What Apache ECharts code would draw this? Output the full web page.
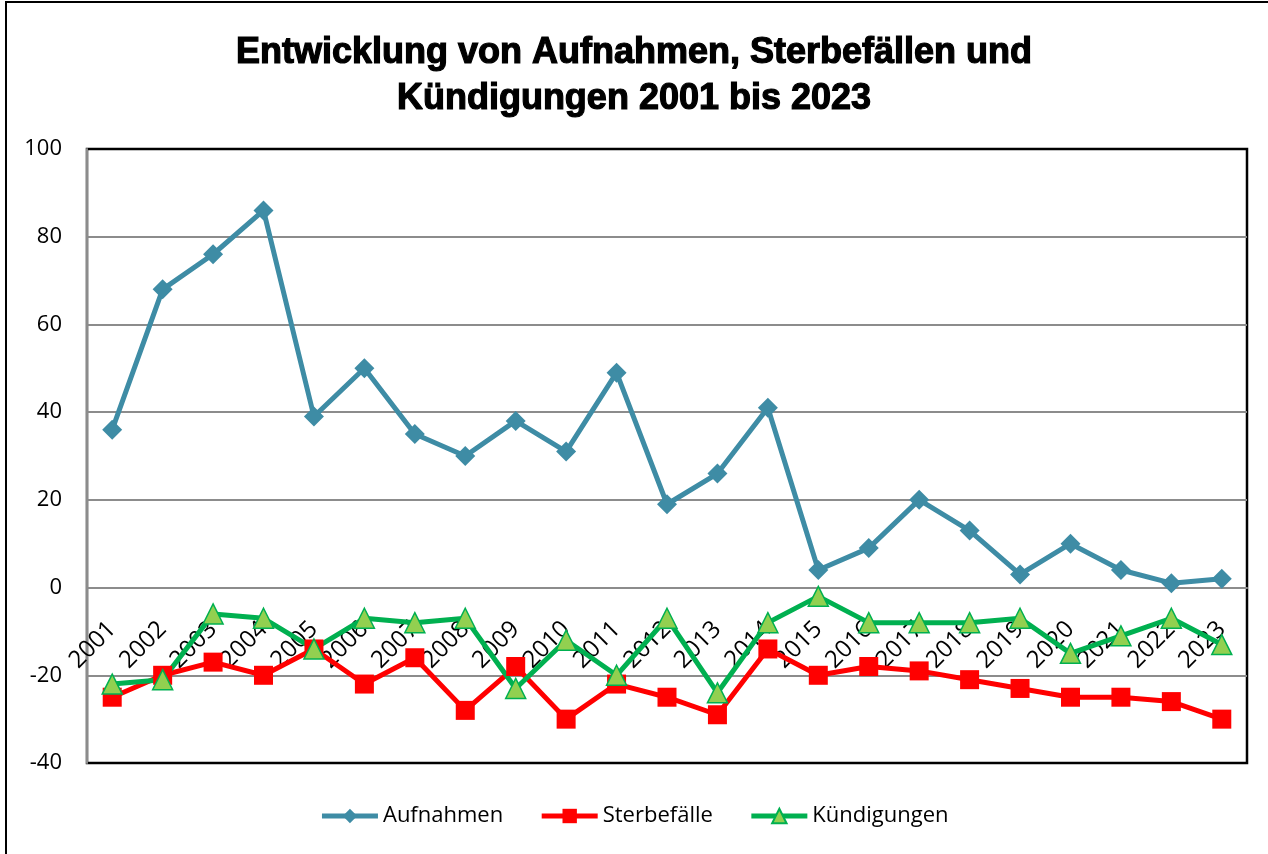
<!DOCTYPE html>
<html>
<head>
<meta charset="utf-8">
<script src="https://cdn.jsdelivr.net/npm/echarts@6/dist/echarts.min.js"></script>
<style>
  html, body { margin: 0; padding: 0; background: #fff; overflow: hidden; }
  #frame { position: absolute; left: 5px; top: 1px; width: 1300px; height: 900px; border: 2px solid #000; }
  #chart { position: absolute; left: 0; top: 0; width: 1268px; height: 854px; }
</style>
</head>
<body>
<div id="frame"></div>
<div id="chart"></div>
<script>
const years = ['2001', '2002', '2003', '2004', '2005', '2006', '2007', '2008', '2009', '2010', '2011', '2012',
  '2013', '2014', '2015', '2016', '2017', '2018', '2019', '2020', '2021', '2022', '2023'];
const aufnahmen = [36, 68, 76, 86, 39, 50, 35, 30, 38, 31, 49, 19, 26, 41, 4, 9, 20, 13, 3, 10, 4, 1, 2];
const sterbefaelle = [-25, -20, -17, -20, -14, -22, -16, -28, -18, -30, -22, -25, -29, -14, -20, -18, -19, -21, -23, -25, -25, -26, -30];
const kuendigungen = [-22, -21, -6, -7, -14, -7, -8, -7, -23, -12, -20, -7, -24, -8, -2, -8, -8, -8, -7, -15, -11, -7, -13];
const yMin = -40, yMax = 100;

const chart = echarts.init(document.getElementById('chart'));

// plot box in px
const gTop = 149, gBottom = 91, gLeft = 87, gRight = 21;
const plotH = 854 - gTop - gBottom;
// move the category axis up to the zero line
const zeroOffset = -(plotH * (0 - yMin) / (yMax - yMin));

var option = {
  animation: false,
  title: {
    text: 'Entwicklung von Aufnahmen, Sterbefällen und\nKündigungen 2001 bis 2023',
    left: 'center',
    top: 25,
    textStyle: {
      fontFamily: 'Liberation Sans',
      fontWeight: 'bold',
      fontSize: 36,
      lineHeight: 46,
      color: '#000',
      textBorderColor: '#000',
      textBorderWidth: 1.2
    }
  },
  grid: {
    left: gLeft,
    right: gRight,
    top: gTop,
    bottom: gBottom,
    show: true,
    borderColor: '#000',
    borderWidth: 2.5
  },
  legend: {
    bottom: 22,
    left: 'center',
    itemWidth: 56,
    itemHeight: 18,
    itemGap: 36,
    lineStyle: { width: 5 },
    textStyle: { fontFamily: 'Open Sans', fontSize: 22, color: '#000' },
    data: ['Aufnahmen', 'Sterbefälle', 'Kündigungen']
  },
  xAxis: [{
    // line at zero
    type: 'category',
    data: years,
    boundaryGap: true,
    offset: zeroOffset,
    axisLine: { onZero: false, lineStyle: { color: '#8c8c8c', width: 2 } },
    axisTick: { show: false },
    axisLabel: { show: false }
  }, {
    // year labels, a bit below the zero line
    type: 'category',
    data: years,
    boundaryGap: true,
    position: 'bottom',
    offset: zeroOffset + 8,
    axisLine: { show: false, onZero: false },
    axisTick: { show: false },
    splitLine: { show: false },
    axisLabel: {
      rotate: 45,
      margin: 30,
      interval: 0,
      fontFamily: 'Open Sans',
      fontSize: 24,
      color: '#000'
    }
  }],
  yAxis: {
    type: 'value',
    min: yMin,
    max: yMax,
    interval: 20,
    axisLine: { show: true, lineStyle: { color: '#8c8c8c', width: 2 } },
    axisTick: { show: false },
    splitLine: { showMinLine: false, showMaxLine: false, lineStyle: { color: '#8c8c8c', width: 2 } },
    axisLabel: { fontFamily: 'Open Sans', fontSize: 22, color: '#000', margin: 25 }
  },
  series: [{
    name: 'Aufnahmen',
    type: 'line',
    data: aufnahmen,
    symbol: 'diamond',
    symbolSize: 20,
    lineStyle: { color: '#3E8CA5', width: 5 },
    itemStyle: { color: '#3E8CA5' }
  }, {
    name: 'Sterbefälle',
    type: 'line',
    data: sterbefaelle,
    symbol: 'rect',
    symbolSize: 19,
    lineStyle: { color: '#FF0000', width: 5 },
    itemStyle: { color: '#FF0000' }
  }, {
    name: 'Kündigungen',
    type: 'line',
    data: kuendigungen,
    symbol: 'triangle',
    symbolSize: 20,
    lineStyle: { color: '#00B050', width: 5 },
    itemStyle: { color: '#92D050', borderColor: '#00B050', borderWidth: 1.5 }
  }]
};

chart.setOption(option);
</script>
</body>
</html>
